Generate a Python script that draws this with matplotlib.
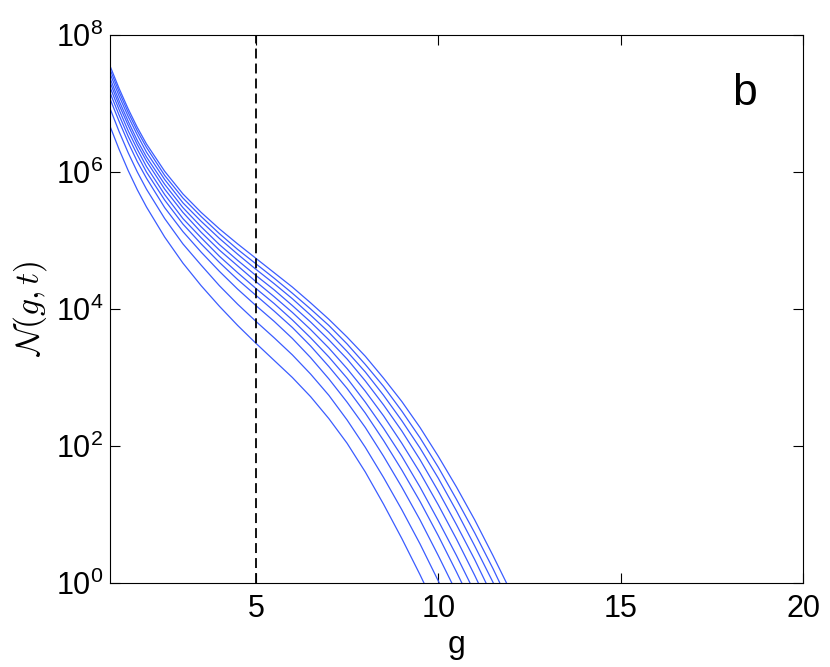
import numpy as np
import matplotlib
matplotlib.use('Agg')
import matplotlib.pyplot as plt

plt.rcParams['font.family'] = ['Liberation Sans', 'DejaVu Sans']

g = [1.0, 1.25, 1.5, 1.75, 2.0, 2.5, 3.0, 3.5, 4.0, 4.5, 5.0, 5.5, 6.0,
     6.5, 7.0, 7.5, 8.0, 8.5, 9.0, 9.5, 10.0, 10.5, 11.0, 11.5, 12.0]

# log10 N(g,t), one list per time step (lowest curve first)
log_N_t1 = [6.67, 6.33, 6.02, 5.74, 5.49, 5.05, 4.67, 4.34, 4.04, 3.76, 3.50,
            3.25, 3.00, 2.72, 2.40, 2.04, 1.62, 1.15, 0.65, 0.12, -0.44]
log_N_t2 = [6.93, 6.59, 6.28, 6.00, 5.75, 5.32, 4.95, 4.64, 4.34, 4.07, 3.82,
            3.58, 3.33, 3.05, 2.74, 2.38, 1.98, 1.54, 1.07, 0.57, 0.03, -0.53]
log_N_t3 = [7.07, 6.74, 6.43, 6.15, 5.91, 5.48, 5.13, 4.83, 4.55, 4.29, 4.05,
            3.82, 3.57, 3.29, 2.98, 2.64, 2.27, 1.85, 1.40, 0.92, 0.40, -0.14]
log_N_t4 = [7.16, 6.83, 6.52, 6.25, 6.00, 5.59, 5.24, 4.95, 4.68, 4.43, 4.20,
            3.97, 3.73, 3.46, 3.16, 2.84, 2.48, 2.08, 1.65, 1.19, 0.69, 0.16,
            -0.39]
log_N_t5 = [7.24, 6.91, 6.60, 6.33, 6.08, 5.67, 5.32, 5.04, 4.77, 4.53, 4.30,
            4.08, 3.84, 3.58, 3.30, 2.99, 2.64, 2.26, 1.85, 1.40, 0.91, 0.40,
            -0.14]
log_N_t6 = [7.31, 6.98, 6.68, 6.40, 6.16, 5.75, 5.41, 5.12, 4.86, 4.63, 4.40,
            4.18, 3.95, 3.70, 3.43, 3.13, 2.80, 2.44, 2.04, 1.61, 1.14, 0.64,
            0.11, -0.45]
log_N_t7 = [7.37, 7.04, 6.74, 6.46, 6.22, 5.82, 5.48, 5.20, 4.94, 4.71, 4.49,
            4.28, 4.05, 3.81, 3.55, 3.27, 2.95, 2.60, 2.22, 1.80, 1.34, 0.85,
            0.34, -0.21]
log_N_t8 = [7.44, 7.11, 6.81, 6.54, 6.29, 5.89, 5.55, 5.28, 5.03, 4.80, 4.58,
            4.37, 4.15, 3.91, 3.66, 3.38, 3.08, 2.74, 2.37, 1.97, 1.53, 1.05,
            0.54, 0.01, -0.55]
log_N_t9 = [7.50, 7.17, 6.87, 6.60, 6.36, 5.95, 5.62, 5.35, 5.10, 4.87, 4.66,
            4.45, 4.23, 4.00, 3.76, 3.49, 3.19, 2.87, 2.51, 2.12, 1.69, 1.22,
            0.73, 0.21, -0.35]
log_N_t10 = [7.55, 7.22, 6.92, 6.65, 6.41, 6.01, 5.68, 5.41, 5.17, 4.95, 4.74,
             4.53, 4.32, 4.09, 3.85, 3.59, 3.31, 2.99, 2.65, 2.27, 1.85, 1.40,
             0.92, 0.40, -0.14]

curves = [log_N_t1, log_N_t2, log_N_t3, log_N_t4, log_N_t5,
          log_N_t6, log_N_t7, log_N_t8, log_N_t9, log_N_t10]

g_mark = 5

fig = plt.figure(figsize=(8.3, 6.67), dpi=100)
ax = fig.add_axes([0.1325, 0.126, 0.835, 0.8215])

for c in curves:
    ax.plot(g[:len(c)], 10.0 ** np.array(c), color='#3a5cff', lw=0.9,
            solid_joinstyle='round')

# dashed marker line at g = 5
ax.axvline(g_mark, color='black', ls=(0, (5.5, 2.8)), lw=1.3)

ax.set_yscale('log')
ax.set_xlim(1, 20)
ax.set_ylim(1, 1e8)
ax.set_xticks([5, 10, 15, 20])
ax.set_yticks([1, 1e2, 1e4, 1e6, 1e8])
ax.yaxis.set_minor_locator(matplotlib.ticker.NullLocator())
ax.tick_params(direction='in', length=7, width=0.8, labelsize=22,
               top=True, right=True)
ax.tick_params(axis='y', pad=5)
ax.tick_params(axis='x', pad=8)

ax.set_xlabel('g', fontsize=23, labelpad=4)
ax.set_ylabel(r'$\mathcal{N}(g,t)$', fontsize=24, math_fontfamily='cm')
ax.yaxis.set_label_coords(-0.088, 0.5)
ax.text(0.915, 0.894, 'b', transform=ax.transAxes, fontsize=32,
        ha='center', va='center')

fig.savefig('out.png', dpi=100)
